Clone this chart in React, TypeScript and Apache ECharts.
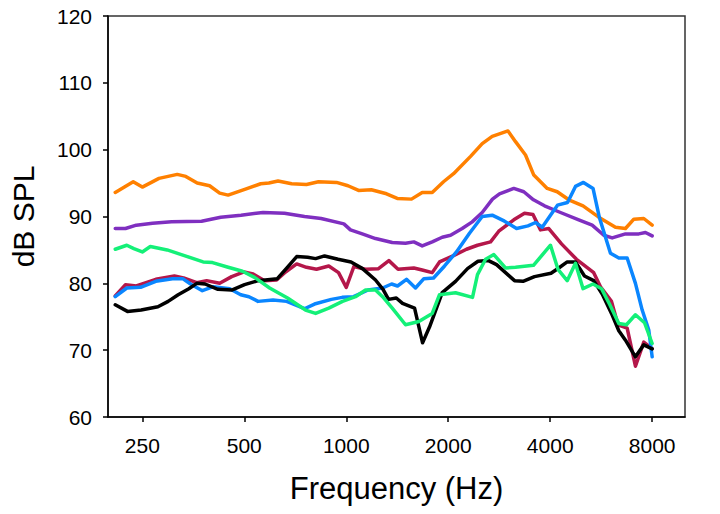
import React, { useEffect, useRef } from "react";
import * as echarts from "echarts";

const tickFreqs = [250, 500, 1000, 2000, 4000, 8000];
const yTicks = { min: 60, max: 120, interval: 10 };

const orangeData: [number, number][] = [
  [208, 93.6], [235, 95.2], [250, 94.4], [280, 95.7], [317, 96.3], [336, 96.0], [363, 95.0], [395, 94.6],
  [423, 93.5], [448, 93.2], [504, 94.1], [559, 94.9], [591, 95.0], [629, 95.3], [690, 94.9], [763, 94.8],
  [828, 95.2], [936, 95.1], [1012, 94.6], [1087, 93.9], [1186, 94.0], [1315, 93.4], [1414, 92.7], [1558, 92.6],
  [1676, 93.6], [1794, 93.6], [1937, 95.2], [2074, 96.4], [2328, 99.0], [2520, 100.9], [2697, 102.0], [3002, 102.8],
  [3160, 101.2], [3382, 99.2], [3578, 96.2], [3920, 94.2], [4196, 93.7], [4539, 92.5], [5000, 91.6], [5564, 89.9],
  [6233, 88.4], [6672, 88.2], [7062, 89.6], [7557, 89.7], [8000, 88.7],
];

const purpleData: [number, number][] = [
  [208, 88.2], [223, 88.2], [240, 88.7], [268, 89.0], [305, 89.2], [374, 89.3], [426, 89.9], [489, 90.2],
  [568, 90.6], [657, 90.5], [753, 90.0], [843, 89.7], [984, 88.9], [1029, 88.0], [1115, 87.4], [1220, 86.7],
  [1367, 86.1], [1496, 86.0], [1583, 86.2], [1676, 85.6], [1794, 86.2], [1920, 86.9], [2032, 87.2], [2199, 88.2],
  [2354, 89.2], [2520, 90.6], [2702, 92.6], [2834, 93.4], [3123, 94.2], [3343, 93.7], [3570, 92.5], [3848, 91.6],
  [4290, 90.6], [4857, 89.5], [5321, 88.7], [5757, 87.2], [6096, 86.8], [6672, 87.4], [7305, 87.4], [7642, 87.6],
  [8000, 87.1],
];

const greenData: [number, number][] = [
  [208, 85.1], [225, 85.7], [236, 85.2], [250, 84.7], [264, 85.5], [296, 85.0], [326, 84.3], [378, 83.2],
  [403, 83.1], [448, 82.4], [494, 81.8], [536, 80.9], [594, 79.3], [671, 77.8], [758, 76.0], [812, 75.5],
  [888, 76.3], [975, 77.3], [1065, 78.0], [1140, 79.0], [1220, 79.0], [1280, 78.0], [1367, 76.3], [1496, 73.8],
  [1638, 74.3], [1794, 75.5], [1885, 78.3], [2102, 78.6], [2359, 77.9], [2440, 81.3], [2578, 83.6], [2727, 84.3],
  [2952, 82.3], [3160, 82.4], [3570, 82.7], [4008, 85.7], [4217, 82.1], [4490, 80.4], [4750, 83.0], [5000, 79.2],
  [5352, 79.9], [5669, 79.2], [5985, 76.9], [6377, 74.0], [6718, 73.8], [7140, 75.3], [7594, 74.1], [8000, 71.0],
];

const redData: [number, number][] = [
  [208, 78.1], [223, 79.8], [240, 79.6], [274, 80.6], [311, 81.1], [331, 80.8], [362, 80.1], [387, 80.4],
  [423, 80.0], [459, 81.0], [499, 81.7], [531, 81.4], [574, 80.4], [623, 80.5], [662, 81.7], [714, 82.9],
  [763, 82.4], [817, 82.1], [888, 82.6], [949, 81.6], [1000, 79.4], [1053, 82.5], [1140, 82.1], [1245, 82.2],
  [1336, 83.4], [1422, 82.1], [1583, 82.3], [1676, 82.0], [1794, 81.6], [1885, 83.2], [2066, 84.1], [2264, 85.1],
  [2440, 85.7], [2667, 86.2], [2820, 87.8], [3123, 89.5], [3359, 90.5], [3558, 90.3], [3745, 88.0], [3962, 88.2],
  [4320, 85.9], [4783, 83.6], [5377, 81.6], [5630, 79.5], [6067, 77.3], [6342, 73.8], [6749, 73.3], [7140, 67.6],
  [7557, 71.2], [8000, 70.2],
];

const blueData: [number, number][] = [
  [208, 78.0], [225, 79.3], [247, 79.4], [274, 80.3], [307, 80.7], [329, 80.7], [347, 79.9], [376, 78.9],
  [405, 79.5], [453, 79.2], [488, 78.3], [516, 78.0], [549, 77.3], [608, 77.5], [667, 77.3], [753, 76.2],
  [806, 76.9], [904, 77.6], [973, 77.9], [1051, 78.0], [1160, 79.0], [1280, 79.3], [1361, 79.9], [1417, 79.6],
  [1506, 80.6], [1601, 79.3], [1695, 80.7], [1810, 80.8], [1951, 82.6], [2115, 84.7], [2311, 87.5], [2520, 90.0],
  [2697, 90.2], [2932, 89.3], [3182, 88.2], [3439, 88.6], [3620, 89.1], [3789, 88.4], [4036, 90.4], [4204, 91.7],
  [4500, 92.1], [4750, 94.5], [5015, 95.1], [5352, 94.2], [5591, 89.8], [6025, 84.5], [6377, 83.8], [6749, 83.8],
  [7140, 80.0], [7475, 76.0], [7818, 73.0], [8000, 69.0],
];

const blackData: [number, number][] = [
  [208, 76.8], [226, 75.8], [248, 76.0], [278, 76.5], [298, 77.3], [319, 78.3], [343, 79.2], [362, 80.0],
  [383, 79.9], [418, 79.1], [459, 79.0], [501, 79.8], [549, 80.4], [626, 80.7], [670, 82.4], [714, 84.0],
  [769, 83.9], [812, 83.7], [863, 84.1], [946, 83.6], [1033, 83.2], [1117, 82.2], [1220, 80.5], [1284, 79.1],
  [1333, 77.6], [1405, 77.8], [1466, 77.0], [1591, 76.3], [1680, 71.1], [1762, 73.5], [1920, 78.6], [2102, 80.3],
  [2280, 82.2], [2449, 83.3], [2630, 83.4], [2778, 82.8], [3139, 80.4], [3325, 80.3], [3595, 81.0], [4022, 81.5],
  [4240, 82.3], [4490, 83.2], [4750, 83.2], [5050, 81.1], [5377, 80.4], [5696, 78.4], [6067, 75.5], [6377, 72.9],
  [6672, 71.5], [7140, 69.0], [7557, 70.8], [8000, 70.2],
];

const seriesList = [
  { name: "orange", color: "#FF8000", data: orangeData },
  { name: "purple", color: "#7F2FC0", data: purpleData },
  { name: "red", color: "#B4174A", data: redData },
  { name: "blue", color: "#0A86FF", data: blueData },
  { name: "black", color: "#000000", data: blackData },
  { name: "green", color: "#14F078", data: greenData },
];

const FONT = "'Liberation Sans', Arial, sans-serif";

export default function App() {
  const ref = useRef<HTMLDivElement>(null);
  useEffect(() => {
    if (!ref.current) return;
    const chart = echarts.init(ref.current, null, { renderer: "svg" });
    const tickPos = tickFreqs.map((f) => Math.log2(f));
    chart.setOption({
      animation: false,
      backgroundColor: "#ffffff",
      grid: {
        left: 107,
        right: 35,
        top: 16,
        bottom: 97,
        show: true,
        borderColor: "#333",
        borderWidth: 1.5,
        backgroundColor: "transparent",
      },
      xAxis: {
        type: "value",
        min: Math.log2(198),
        max: Math.log2(10000),
        name: "Frequency (Hz)",
        nameLocation: "middle",
        nameGap: 56,
        nameTextStyle: { fontFamily: FONT, fontSize: 31, color: "#000" },
        axisLine: { show: true, onZero: false, lineStyle: { color: "#000", width: 1.5 } },
        axisTick: { show: true, inside: false, length: 5, customValues: tickPos, lineStyle: { color: "#000", width: 1.5 } },
        axisLabel: {
          customValues: tickPos,
          margin: 18,
          fontFamily: FONT,
          fontSize: 21,
          color: "#000",
          formatter: (v: number) => String(Math.round(Math.pow(2, v))),
        },
        splitLine: { show: false },
      },
      yAxis: {
        type: "value",
        min: yTicks.min,
        max: yTicks.max,
        interval: yTicks.interval,
        name: "dB SPL",
        nameLocation: "middle",
        nameGap: 70,
        nameTextStyle: { fontFamily: FONT, fontSize: 30, color: "#000" },
        axisLine: { show: true, onZero: false, lineStyle: { color: "#000", width: 1.5 } },
        axisTick: { show: true, inside: false, length: 5, lineStyle: { color: "#000", width: 1.5 } },
        axisLabel: { margin: 16, fontFamily: FONT, fontSize: 21, color: "#000" },
        splitLine: { show: false },
      },
      series: seriesList.map((s) => ({
        name: s.name,
        type: "line",
        data: s.data.map(([f, v]) => [Math.log2(f), v]),
        showSymbol: false,
        symbol: "none",
        lineStyle: { color: s.color, width: 3.5, join: "round", cap: "round" },
        itemStyle: { color: s.color },
        smooth: false,
      })),
    });
    return () => chart.dispose();
  }, []);
  return (
    <div
      ref={ref}
      style={{ position: "absolute", left: 0, top: 0, width: 720, height: 514 }}
    />
  );
}
